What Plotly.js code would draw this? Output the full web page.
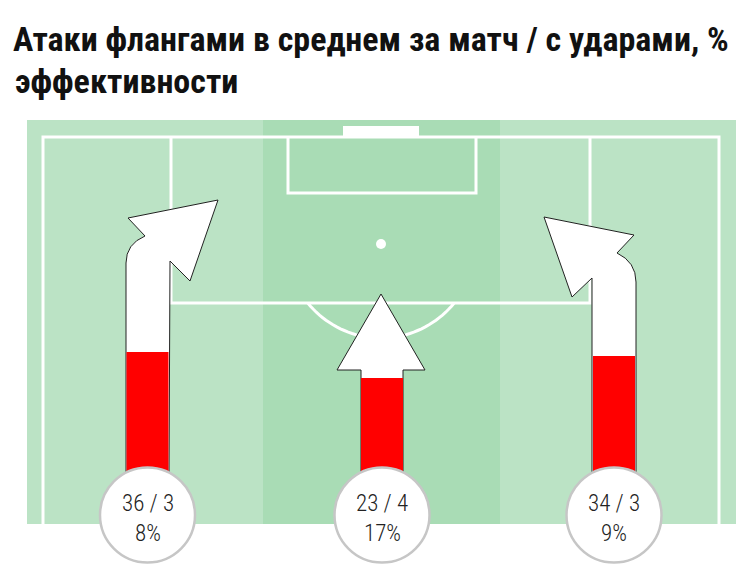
<!DOCTYPE html>
<html>
<head>
<meta charset="utf-8">
<script src="https://cdn.plot.ly/plotly-3.0.1.min.js"></script>
<style>
	body { margin: 0; background: #fff; }
	#chart { width: 750px; height: 587px; }
</style>
</head>
<body>
<div id="chart"></div>
<script>
// values: left flank, centre, right flank
var lanes = ["left", "centre", "right"];
var attacks = [36, 23, 34];
var shots = [3, 4, 3];
var efficiency = [8, 17, 9];

// drawing constants (pixels of the 750x587 picture)
const W = 750;
const H = 587;
const lane_x = [147.5, 382, 614];
const shaft_w = 43;
const bar_base = -24;
const circle_y = 515;
const circle_r = 47.5;
const narrow = "'Roboto Condensed', 'DejaVu Sans Condensed', sans-serif";

const light_grass = "#bbe3c5";
const dark_grass = "#a9dcb5";
const line_col = "#ffffff";

function pitch_shapes()
{
	var s = [];
	s.push({type: "rect", layer: "below", x0: 27, x1: 736, y0: 120, y1: 524,
		fillcolor: light_grass, line: {width: 0}});
	s.push({type: "rect", layer: "below", x0: 263, x1: 500, y0: 120, y1: 524,
		fillcolor: dark_grass, line: {width: 0}});

	var lw = {color: line_col, width: 3};
	s.push({type: "path", layer: "below", path: "M43,524 L43,137 L719,137 L719,524", line: lw});
	s.push({type: "path", layer: "below", path: "M171,137 L171,303 L590,303 L590,137", line: lw});
	s.push({type: "path", layer: "below", path: "M288,137 L288,193 L476,193 L476,137", line: lw});
	s.push({type: "rect", layer: "below", x0: 343, x1: 419, y0: 126, y1: 137,
		fillcolor: line_col, line: {width: 0}});
	s.push({type: "circle", layer: "below", x0: 376, x1: 386, y0: 239, y1: 249,
		fillcolor: line_col, line: {width: 0}});

	// penalty arc, the part outside the box
	var cx = 381, cy = 244, r = 94;
	var a0 = Math.asin((303 - cy) / r);
	var pts = [];
	for (var i = 0; i <= 40; i++)
	{
		var a = a0 + (Math.PI - 2 * a0) * i / 40;
		pts.push((cx + r * Math.cos(a)).toFixed(1) + "," + (cy + r * Math.sin(a)).toFixed(1));
	}
	s.push({type: "path", layer: "below", path: "M" + pts.join(" L"), line: lw});
	return s;
}

function arrow_shapes()
{
	var outline = {color: "#222", width: 1};
	var paths = [
		"M126,472 L126,263 Q126,244 145,236 L128,218 L218,200 L190,281 L170,261 L169,472 Z",
		"M361,472 L361,370 L337,370 L381,294 L425,370 L403,370 L403,472 Z",
		"M636,472 L636,282 Q636,262 617,253 L634,235 L544,217 L572,297 L592,278 L592,472 Z"
	];
	return paths.map(p => ({type: "path", layer: "below", path: p,
		fillcolor: "#ffffff", line: outline}));
}

function circle_shapes()
{
	return lane_x.map(x => ({type: "circle", layer: "above",
		x0: x - circle_r, x1: x + circle_r, y0: circle_y - circle_r, y1: circle_y + circle_r,
		fillcolor: "#ffffff", line: {color: "#c6c6c6", width: 2.5}}));
}

function labels()
{
	var f = {family: narrow, size: 23, weight: 300, color: "#222"};
	var a = [];
	for (var i = 0; i < lanes.length; i++)
	{
		a.push({xref: "x", yref: "y", x: lane_x[i], y: 503, showarrow: false,
			text: attacks[i] + " / " + shots[i], font: f});
		a.push({xref: "x", yref: "y", x: lane_x[i], y: 533, showarrow: false,
			text: efficiency[i] + "%", font: f});
	}
	a.push({xref: "paper", yref: "paper", x: 13 / W, y: 1 - 59 / H, xanchor: "left", yanchor: "top",
		showarrow: false, align: "left", text: "эффективности",
		font: {family: narrow, size: 34, weight: "bold", color: "#111"}});
	return a;
}

var bars = {
	type: "bar",
	x: lane_x,
	y: attacks.map(v => v - bar_base),
	base: bar_base,
	width: shaft_w - 1,
	xaxis: "x",
	yaxis: "y2",
	marker: {color: "#ff0000", line: {width: 0}},
	hoverinfo: "skip"
};

var layout = {
	width: W,
	height: H,
	margin: {l: 0, r: 0, t: 0, b: 0},
	paper_bgcolor: "#ffffff",
	plot_bgcolor: "rgba(0,0,0,0)",
	showlegend: false,
	title: {
		text: "Атаки флангами в среднем за матч / с ударами, %",
		x: 13 / W,
		xanchor: "left",
		xref: "paper",
		y: 1 - 27 / H,
		yanchor: "top",
		yref: "container",
		font: {family: narrow, size: 34, weight: "bold", color: "#111"}
	},
	xaxis: {range: [0, W], visible: false, fixedrange: true},
	yaxis: {range: [H, 0], visible: false, fixedrange: true},
	yaxis2: {range: [bar_base - (H - 472) / 2, 36 + 352 / 2], overlaying: "y",
		visible: false, fixedrange: true},
	shapes: pitch_shapes().concat(arrow_shapes(), circle_shapes()),
	annotations: labels()
};

Plotly.newPlot("chart", [bars], layout, {displayModeBar: false, staticPlot: true});
</script>
</body>
</html>
